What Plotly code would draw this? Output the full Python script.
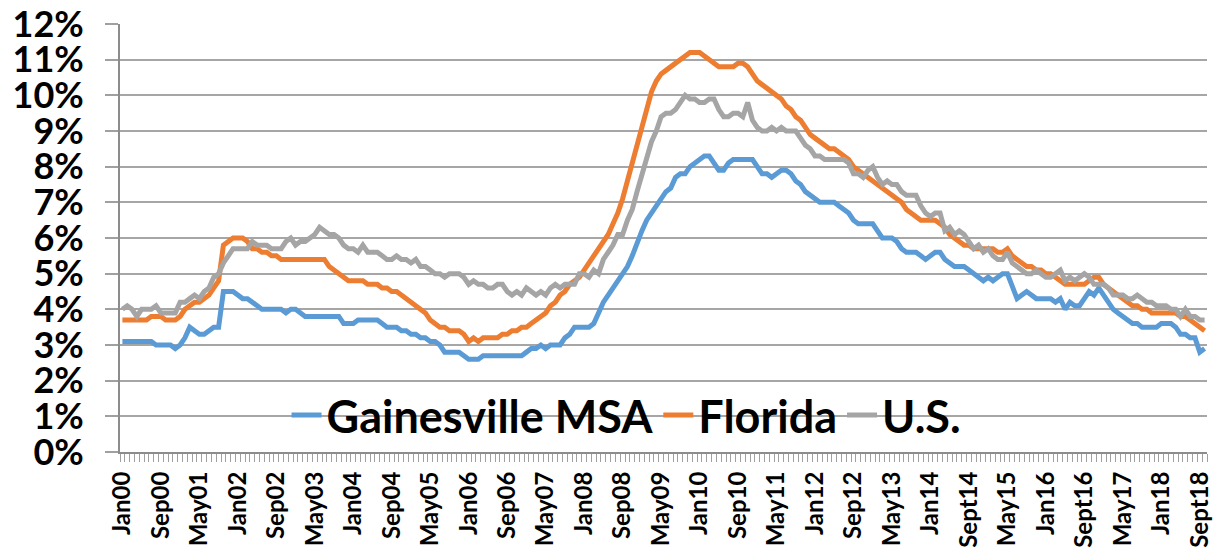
import plotly.graph_objects as go

# ---- Data (monthly, Jan 2000 - Oct 2018), unemployment rate in % ----
gainesville = [
    3.1, 3.1, 3.1, 3.1, 3.1, 3.1, 3.1, 3.0, 3.0, 3.0, 3.0, 2.9,   # 2000
    3.0, 3.2, 3.5, 3.4, 3.3, 3.3, 3.4, 3.5, 3.5, 4.5, 4.5, 4.5,   # 2001
    4.4, 4.3, 4.3, 4.2, 4.1, 4.0, 4.0, 4.0, 4.0, 4.0, 3.9, 4.0,   # 2002
    4.0, 3.9, 3.8, 3.8, 3.8, 3.8, 3.8, 3.8, 3.8, 3.8, 3.6, 3.6,   # 2003
    3.6, 3.7, 3.7, 3.7, 3.7, 3.7, 3.6, 3.5, 3.5, 3.5, 3.4, 3.4,   # 2004
    3.3, 3.3, 3.2, 3.2, 3.1, 3.1, 3.0, 2.8, 2.8, 2.8, 2.8, 2.7,   # 2005
    2.6, 2.6, 2.6, 2.7, 2.7, 2.7, 2.7, 2.7, 2.7, 2.7, 2.7, 2.7,   # 2006
    2.8, 2.9, 2.9, 3.0, 2.9, 3.0, 3.0, 3.0, 3.2, 3.3, 3.5, 3.5,   # 2007
    3.5, 3.5, 3.6, 3.9, 4.2, 4.4, 4.6, 4.8, 5.0, 5.2, 5.5, 5.9,   # 2008
    6.2, 6.5, 6.7, 6.9, 7.1, 7.3, 7.4, 7.7, 7.8, 7.8, 8.0, 8.1,   # 2009
    8.2, 8.3, 8.3, 8.1, 7.9, 7.9, 8.1, 8.2, 8.2, 8.2, 8.2, 8.2,   # 2010
    8.0, 7.8, 7.8, 7.7, 7.8, 7.9, 7.9, 7.8, 7.6, 7.5, 7.3, 7.2,   # 2011
    7.1, 7.0, 7.0, 7.0, 7.0, 6.9, 6.8, 6.7, 6.5, 6.4, 6.4, 6.4,   # 2012
    6.4, 6.2, 6.0, 6.0, 6.0, 5.9, 5.7, 5.6, 5.6, 5.6, 5.5, 5.4,   # 2013
    5.5, 5.6, 5.6, 5.4, 5.3, 5.2, 5.2, 5.2, 5.1, 5.0, 4.9, 4.8,   # 2014
    4.9, 4.8, 4.9, 5.0, 5.0, 4.6, 4.3, 4.4, 4.5, 4.4, 4.3, 4.3,   # 2015
    4.3, 4.3, 4.2, 4.3, 4.0, 4.2, 4.1, 4.1, 4.3, 4.5, 4.4, 4.6,   # 2016
    4.4, 4.2, 4.0, 3.9, 3.8, 3.7, 3.6, 3.6, 3.5, 3.5, 3.5, 3.5,   # 2017
    3.6, 3.6, 3.6, 3.5, 3.3, 3.3, 3.2, 3.2, 2.8, 2.9,             # 2018
]

florida = [
    3.7, 3.7, 3.7, 3.7, 3.7, 3.7, 3.8, 3.8, 3.8, 3.7, 3.7, 3.7,   # 2000
    3.8, 4.0, 4.1, 4.2, 4.2, 4.3, 4.4, 4.6, 4.8, 5.8, 5.9, 6.0,   # 2001
    6.0, 6.0, 5.9, 5.7, 5.7, 5.6, 5.6, 5.5, 5.5, 5.4, 5.4, 5.4,   # 2002
    5.4, 5.4, 5.4, 5.4, 5.4, 5.4, 5.4, 5.2, 5.1, 5.0, 4.9, 4.8,   # 2003
    4.8, 4.8, 4.8, 4.7, 4.7, 4.7, 4.6, 4.6, 4.5, 4.5, 4.4, 4.3,   # 2004
    4.2, 4.1, 4.0, 3.9, 3.7, 3.6, 3.5, 3.5, 3.4, 3.4, 3.4, 3.3,   # 2005
    3.1, 3.2, 3.1, 3.2, 3.2, 3.2, 3.2, 3.3, 3.3, 3.4, 3.4, 3.5,   # 2006
    3.5, 3.6, 3.7, 3.8, 3.9, 4.1, 4.2, 4.4, 4.5, 4.7, 4.8, 4.9,   # 2007
    5.1, 5.3, 5.5, 5.7, 5.9, 6.1, 6.4, 6.7, 7.1, 7.6, 8.1, 8.7,   # 2008
    9.2, 9.7, 10.1, 10.4, 10.6, 10.7, 10.8, 10.9, 11.0, 11.1, 11.2, 11.2,  # 2009
    11.2, 11.1, 11.0, 10.9, 10.8, 10.8, 10.8, 10.8, 10.9, 10.9, 10.8, 10.6,  # 2010
    10.4, 10.3, 10.2, 10.1, 10.0, 9.9, 9.7, 9.6, 9.4, 9.3, 9.1, 8.9,  # 2011
    8.8, 8.7, 8.6, 8.5, 8.5, 8.4, 8.3, 8.2, 8.0, 7.9, 7.8, 7.7,   # 2012
    7.6, 7.5, 7.4, 7.3, 7.2, 7.1, 7.0, 6.8, 6.7, 6.6, 6.5, 6.5,   # 2013
    6.5, 6.5, 6.4, 6.3, 6.1, 6.0, 5.9, 5.8, 5.8, 5.7, 5.7, 5.7,   # 2014
    5.7, 5.7, 5.6, 5.6, 5.7, 5.5, 5.4, 5.3, 5.2, 5.2, 5.1, 5.1,   # 2015
    5.0, 5.0, 4.9, 4.8, 4.7, 4.7, 4.7, 4.7, 4.7, 4.8, 4.9, 4.9,   # 2016
    4.7, 4.6, 4.5, 4.4, 4.3, 4.2, 4.1, 4.1, 4.0, 4.0, 3.9, 3.9,   # 2017
    3.9, 3.9, 3.9, 3.9, 3.8, 3.8, 3.7, 3.6, 3.5, 3.4,             # 2018
]

us = [
    4.0, 4.1, 4.0, 3.8, 4.0, 4.0, 4.0, 4.1, 3.9, 3.9, 3.9, 3.9,   # 2000
    4.2, 4.2, 4.3, 4.4, 4.3, 4.5, 4.6, 4.9, 5.0, 5.3, 5.5, 5.7,   # 2001
    5.7, 5.7, 5.7, 5.9, 5.8, 5.8, 5.8, 5.7, 5.7, 5.7, 5.9, 6.0,   # 2002
    5.8, 5.9, 5.9, 6.0, 6.1, 6.3, 6.2, 6.1, 6.1, 6.0, 5.8, 5.7,   # 2003
    5.7, 5.6, 5.8, 5.6, 5.6, 5.6, 5.5, 5.4, 5.4, 5.5, 5.4, 5.4,   # 2004
    5.3, 5.4, 5.2, 5.2, 5.1, 5.0, 5.0, 4.9, 5.0, 5.0, 5.0, 4.9,   # 2005
    4.7, 4.8, 4.7, 4.7, 4.6, 4.6, 4.7, 4.7, 4.5, 4.4, 4.5, 4.4,   # 2006
    4.6, 4.5, 4.4, 4.5, 4.4, 4.6, 4.7, 4.6, 4.7, 4.7, 4.7, 5.0,   # 2007
    5.0, 4.9, 5.1, 5.0, 5.4, 5.6, 5.8, 6.1, 6.1, 6.5, 6.8, 7.3,   # 2008
    7.8, 8.3, 8.7, 9.0, 9.4, 9.5, 9.5, 9.6, 9.8, 10.0, 9.9, 9.9,  # 2009
    9.8, 9.8, 9.9, 9.9, 9.6, 9.4, 9.4, 9.5, 9.5, 9.4, 9.8, 9.3,   # 2010
    9.1, 9.0, 9.0, 9.1, 9.0, 9.1, 9.0, 9.0, 9.0, 8.8, 8.6, 8.5,   # 2011
    8.3, 8.3, 8.2, 8.2, 8.2, 8.2, 8.2, 8.1, 7.8, 7.8, 7.7, 7.9,   # 2012
    8.0, 7.7, 7.5, 7.6, 7.5, 7.5, 7.3, 7.2, 7.2, 7.2, 6.9, 6.7,   # 2013
    6.6, 6.7, 6.7, 6.2, 6.3, 6.1, 6.2, 6.1, 5.9, 5.7, 5.8, 5.6,   # 2014
    5.7, 5.5, 5.4, 5.4, 5.6, 5.3, 5.2, 5.1, 5.0, 5.0, 5.1, 5.0,   # 2015
    4.9, 4.9, 5.0, 5.1, 4.8, 4.9, 4.8, 4.9, 5.0, 4.9, 4.7, 4.7,   # 2016
    4.7, 4.6, 4.4, 4.4, 4.4, 4.3, 4.3, 4.4, 4.3, 4.2, 4.2, 4.1,   # 2017
    4.1, 4.1, 4.0, 4.0, 3.8, 4.0, 3.8, 3.8, 3.7, 3.7,             # 2018
]

series_names = ["Gainesville MSA", "Florida", "U.S."]
series_colors = ["#5B9BD5", "#ED7D31", "#A5A5A5"]

tick_labels = ["Jan00", "Sep00", "May01", "Jan02", "Sep02", "May03", "Jan04",
               "Sep04", "May05", "Jan06", "Sep06", "May07", "Jan08", "Sep08",
               "May09", "Jan10", "Sep10", "May11", "Jan12", "Sep12", "May13",
               "Jan14", "Sept14", "May15", "Jan16", "Sept16", "May17", "Jan18",
               "Sept18"]
tick_step = 8  # one label every 8 months

y_ticks = list(range(0, 13))
y_tick_text = [f"{v}%" for v in y_ticks]

n = len(us)
months = list(range(n))

FONT = "Lato"
fig = go.Figure()
for name, vals, col in zip(series_names, [gainesville, florida, us], series_colors):
    fig.add_trace(go.Scatter(x=months, y=vals, mode="lines", name=name,
                             line=dict(color=col, width=5)))

fig.update_layout(
    width=1215, height=554,
    margin=dict(l=120, r=8, t=24, b=102, autoexpand=False),
    plot_bgcolor="white", paper_bgcolor="white",
    font=dict(family=FONT, color="black"),
    showlegend=True,
    legend=dict(orientation="h", x=0.466, xanchor="center", y=0.086,
                yanchor="middle", bgcolor="rgba(0,0,0,0)",
                font=dict(family=FONT, size=45, weight="bold", color="black")),
)
fig.update_xaxes(
    range=[-0.5, n - 0.5],
    tickmode="array",
    tickvals=[i * tick_step for i in range(len(tick_labels))],
    ticktext=tick_labels,
    tickangle=-90,
    tickfont=dict(family=FONT, size=24, weight="bold", color="black"),
    ticks="outside", ticklen=8, tickcolor="rgba(0,0,0,0)",
    minor=dict(ticks="outside", dtick=1, tick0=0.5, ticklen=8,
               tickcolor="#A0A0A0", tickwidth=1, showgrid=False),
    showline=True, linecolor="#8C8C8C", linewidth=2,
    showgrid=False, zeroline=False, automargin=False,
    ticklabeloverflow="allow",
)
fig.update_yaxes(
    range=[0, 12],
    tickmode="array", tickvals=y_ticks, ticktext=y_tick_text,
    tickfont=dict(family=FONT, size=36, weight="bold", color="black"),
    ticks="outside", ticklen=13, tickcolor="#A0A0A0", tickwidth=2,
    ticklabelstandoff=14,
    showline=True, linecolor="#8C8C8C", linewidth=2,
    showgrid=True, gridcolor="#A6A6A6", gridwidth=2,
    zeroline=False, automargin=False,
    ticklabeloverflow="allow",
)

fig.write_html("out.html",
               config={"displayModeBar": False},
               post_script="document.body.style.margin='0';"
                           "document.body.style.overflow='hidden';")
